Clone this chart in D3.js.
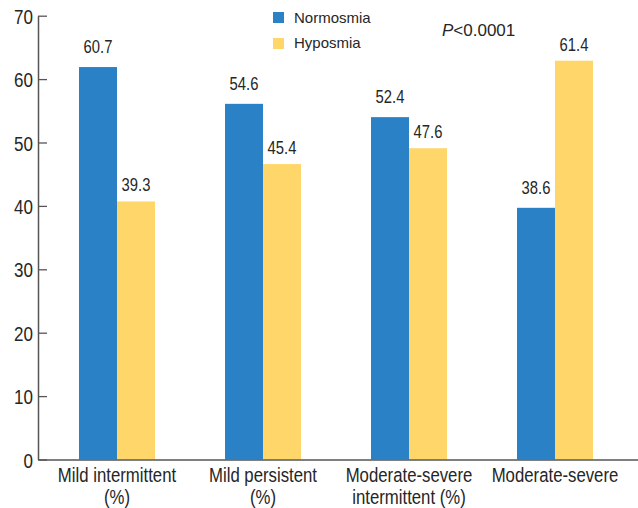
<!DOCTYPE html>
<html><head><meta charset="utf-8">
<script src="https://cdn.jsdelivr.net/npm/d3@7"></script>
<style>html,body{margin:0;padding:0;background:#fff;}</style>
</head><body>
<svg id="c" width="638" height="508"></svg>
<script>
const categories = [["Mild intermittent","(%)"],["Mild persistent","(%)"],["Moderate-severe","intermittent (%)"],["Moderate-severe"]];
const seriesNames = ["Normosmia","Hyposmia"];
// bar heights as drawn in the picture
const normosmiaBars = [61.9, 56.1, 54.0, 39.7];
const hyposmiaBars = [40.7, 46.6, 49.1, 62.9];
// printed value labels
const normosmiaLabels = ["60.7","54.6","52.4","38.6"];
const hyposmiaLabels = ["39.3","45.4","47.6","61.4"];
const yTicks = [0,10,20,30,40,50,60,70];
const colors = ["#2a81c6","#fed66a"];

const svg = d3.select("#c");
const font = "'Liberation Sans', Arial, Helvetica, sans-serif";
const axisColor = "#555";
const textColor = "#262626";

const y = d3.scaleLinear().domain([0,70]).range([459.5,15.7]);
const x0 = d3.scaleBand().domain(d3.range(categories.length)).range([44,628]).paddingInner(70/146).paddingOuter(35/146);
const x1 = d3.scaleBand().domain([0,1]).range([0,x0.bandwidth()]);

const series = [normosmiaBars, hyposmiaBars];
const labels = [normosmiaLabels, hyposmiaLabels];
const labelGap = [14, 10];

// bars
series.forEach((vals, s) => {
  svg.append("g").selectAll("rect").data(vals).join("rect")
    .attr("x", (d,i) => x0(i) + x1(s))
    .attr("width", x1.bandwidth())
    .attr("y", d => y(d))
    .attr("height", d => y(0) - y(d))
    .attr("fill", colors[s]);
  svg.append("g").selectAll("text").data(vals).join("text")
    .attr("transform", (d,i) => `translate(${x0(i) + x1(s) + x1.bandwidth()/2},${y(d) - labelGap[s]}) scale(0.8,1)`)
    .attr("text-anchor","middle")
    .attr("font-family", font).attr("font-size", 18.5)
    .attr("fill", textColor)
    .text((d,i) => labels[s][i]);
});

// y axis
const yAxis = d3.axisLeft(y).tickValues(yTicks).tickSizeInner(-9).tickSizeOuter(0).tickPadding(6);
const gy = svg.append("g").attr("transform","translate(38,0)").call(yAxis);
gy.select(".domain").attr("stroke", axisColor).attr("stroke-width",1.5);
gy.selectAll(".tick line").attr("stroke", axisColor).attr("stroke-width",1.3);
gy.selectAll(".tick text")
  .attr("x", null).attr("dy", null)
  .attr("transform","translate(-5,7.5) scale(0.81,1)")
  .attr("font-family", font).attr("font-size", 21).attr("fill", textColor);

// x axis line
const xAxis = d3.axisBottom(d3.scaleLinear().domain([0,1]).range([38,638])).tickValues([]).tickSizeOuter(0);
const gx = svg.append("g").attr("transform",`translate(0,${y(0)})`).call(xAxis);
gx.select(".domain").attr("stroke", axisColor).attr("stroke-width",1.5);

// category labels
categories.forEach((lines, i) => {
  lines.forEach((ln, j) => {
    svg.append("text")
      .attr("transform", `translate(${x0(i) + x0.bandwidth()/2},${482 + j*22}) scale(0.86,1)`)
      .attr("text-anchor","middle")
      .attr("font-family", font).attr("font-size", 19.5).attr("fill", textColor)
      .text(ln);
  });
});

// legend
seriesNames.forEach((n, s) => {
  svg.append("rect").attr("x",273).attr("y",12 + s*26).attr("width",11).attr("height",11).attr("fill",colors[s]);
  svg.append("text").attr("x",294).attr("y",22.5 + s*25.5)
    .attr("font-family", font).attr("font-size",15).attr("fill", textColor).text(n);
});

// p value
const p = svg.append("text").attr("x",442).attr("y",36)
  .attr("font-family", font).attr("font-size",17).attr("fill", textColor);
p.append("tspan").attr("font-style","italic").text("P");
p.append("tspan").text("<0.0001");
</script>
</body></html>
